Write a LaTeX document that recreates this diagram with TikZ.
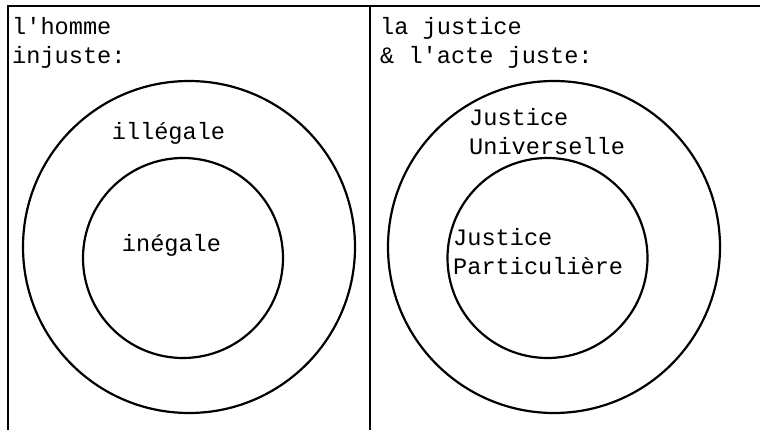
\documentclass[tikz,border=0pt]{standalone}
\usepackage{fontspec}
\setmonofont{Liberation Mono}
\tikzset{
  panel/.style={line width=2pt},
  ring/.style={circle, draw, line width=2.2pt, inner sep=0pt},
  txt/.style={font=\ttfamily\fontsize{23.6}{29}\selectfont, inner sep=0pt, align=left},
}
\begin{document}
\begin{tikzpicture}[x=1pt, y=-1pt]
\useasboundingbox (0,0) rectangle (760,430);
% frame of the two panels
\draw[panel] (8,430) -- (8,6) -- (760,6);
\draw[panel] (370,6) -- (370,430);
% left panel
\node[txt, anchor=base west] (homme) at (12,64) {l'homme\\injuste:};
\node[ring, minimum size=332] (illegaleC) at (189,247) {};
\node[ring, minimum size=200] (inegaleC) at (183,258) {};
\node[txt, anchor=base] (illegale) at (168.5,140) {illégale};
\node[txt, anchor=base] (inegale) at (171.5,252) {inégale};
% right panel
\node[txt, anchor=base west] (justice) at (380,64) {la justice\\\& l'acte juste:};
\node[ring, minimum size=332] (universelleC) at (554,247) {};
\node[ring, minimum size=200] (particuliereC) at (547.5,258) {};
\node[txt, anchor=base west] (universelle) at (469,155) {Justice\\Universelle};
\node[txt, anchor=base west] (particuliere) at (453,275) {Justice\\Particulière};
\end{tikzpicture}
\end{document}
